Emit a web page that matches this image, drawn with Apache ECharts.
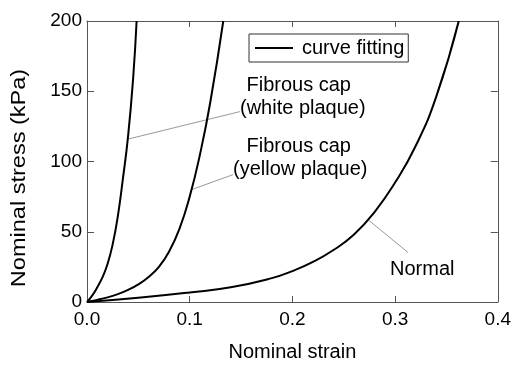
<!DOCTYPE html>
<html>
<head>
<meta charset="utf-8">
<script src="https://cdn.jsdelivr.net/npm/echarts@6/dist/echarts.min.js"></script>
<style>
  html, body { margin: 0; padding: 0; background: #fff; }
  #chart { width: 514px; height: 367px; }
</style>
</head>
<body>
<div id="chart"></div>
<script>
// strain / stress (kPa)
const whitePlaque = [
  [0, 0], [0.005, 4.5], [0.01, 10.5], [0.015, 17.5], [0.02, 27], [0.025, 41],
  [0.03, 61], [0.035, 88], [0.04, 118], [0.045, 160], [0.0483, 200]
];
const yellowPlaque = [
  [0, 0], [0.01, 1.5], [0.02, 3.3], [0.03, 5.6], [0.04, 8.6], [0.05, 12.5],
  [0.06, 17.8], [0.07, 25], [0.08, 36], [0.09, 52], [0.1, 75], [0.11, 105],
  [0.12, 142], [0.1327, 200]
];
const normal = [
  [0, 0], [0.05, 3], [0.1, 6.8], [0.14, 10.5], [0.18, 17], [0.2, 22],
  [0.22, 28.5], [0.24, 37], [0.26, 48], [0.28, 64], [0.3, 85], [0.32, 111],
  [0.34, 146], [0.362, 200]
];

// leader lines from curve to label
const leaderWhite = [[0.0402, 116], [0.1489, 135.5]];
const leaderYellow = [[0.1019, 80], [0.1424, 90.7]];
const leaderNormal = [[0.2738, 58.5], [0.3127, 35.2]];

const xTicks = [0, 0.1, 0.2, 0.3, 0.4];
const yTicks = [0, 50, 100, 150, 200];

const font = "Liberation Sans, Arial, sans-serif";
const frame = "#555";

const chart = echarts.init(document.getElementById("chart"));

const curve = (data) => ({
  name: "curve fitting",
  type: "line",
  data,
  smooth: true,
  symbol: "none",
  lineStyle: { color: "#000", width: 2 },
  itemStyle: { color: "#000" },
  z: 3
});

const leader = (data) => ({
  type: "line",
  data,
  symbol: "none",
  silent: true,
  lineStyle: { color: "#9a9a9a", width: 1 },
  z: 2
});

const axisX = (position, show) => ({
  type: "value",
  position,
  min: xTicks[0],
  max: xTicks[xTicks.length - 1],
  interval: 0.1,
  axisLine: { show: true, onZero: false, lineStyle: { color: frame, width: 1 } },
  axisTick: { show: true, inside: true, length: 6, lineStyle: { color: frame } },
  axisLabel: {
    show,
    margin: 8,
    fontFamily: font,
    fontSize: 19,
    color: "#000",
    formatter: (v) => v.toFixed(1)
  },
  splitLine: { show: false }
});

const axisY = (position, show) => ({
  type: "value",
  position,
  min: yTicks[0],
  max: yTicks[yTicks.length - 1],
  interval: 50,
  axisLine: { show: true, onZero: false, lineStyle: { color: frame, width: 1 } },
  axisTick: { show: true, inside: true, length: 7, lineStyle: { color: frame } },
  axisLabel: { show, margin: 5, fontFamily: font, fontSize: 19, color: "#000" },
  splitLine: { show: false }
});

const label = (text, x, y) => ({
  type: "text",
  x,
  y,
  style: {
    text,
    fontFamily: font,
    fontSize: 20,
    fill: "#000",
    textAlign: "left",
    textVerticalAlign: "middle"
  }
});

const xMain = axisX("bottom", true);
xMain.name = "Nominal strain";
xMain.nameLocation = "middle";
xMain.nameGap = 40;
xMain.nameTextStyle = { fontFamily: font, fontSize: 20, color: "#000" };

chart.setOption({
  animation: false,
  backgroundColor: "#fff",
  grid: { left: 87, right: 16, top: 21, bottom: 60 },
  legend: {
    data: [{ name: "curve fitting", icon: "rect" }],
    left: 249,
    top: 34,
    orient: "horizontal",
    padding: [4, 4, 4, 6],
    borderColor: "#333",
    borderWidth: 1,
    itemWidth: 38,
    itemHeight: 2,
    textStyle: { fontFamily: font, fontSize: 20, color: "#000", padding: [0, 0, 0, 4] }
  },
  xAxis: [xMain, axisX("top", false)],
  yAxis: [axisY("left", true), axisY("right", false)],
  graphic: [
    {
      type: "text",
      x: 19,
      y: 178,
      rotation: Math.PI / 2,
      scaleX: 1.12,
      style: {
        text: "Nominal stress (kPa)",
        fontFamily: font,
        fontSize: 21,
        fill: "#000",
        textAlign: "center",
        textVerticalAlign: "middle"
      }
    },
    label("Fibrous cap", 246.5, 85),
    label("(white plaque)", 240, 108),
    label("Fibrous cap", 246.5, 146),
    label("(yellow plaque)", 233, 169),
    label("Normal", 390, 269.5)
  ],
  series: [
    curve(whitePlaque),
    curve(yellowPlaque),
    curve(normal),
    leader(leaderWhite),
    leader(leaderYellow),
    leader(leaderNormal)
  ]
});
</script>
</body>
</html>
